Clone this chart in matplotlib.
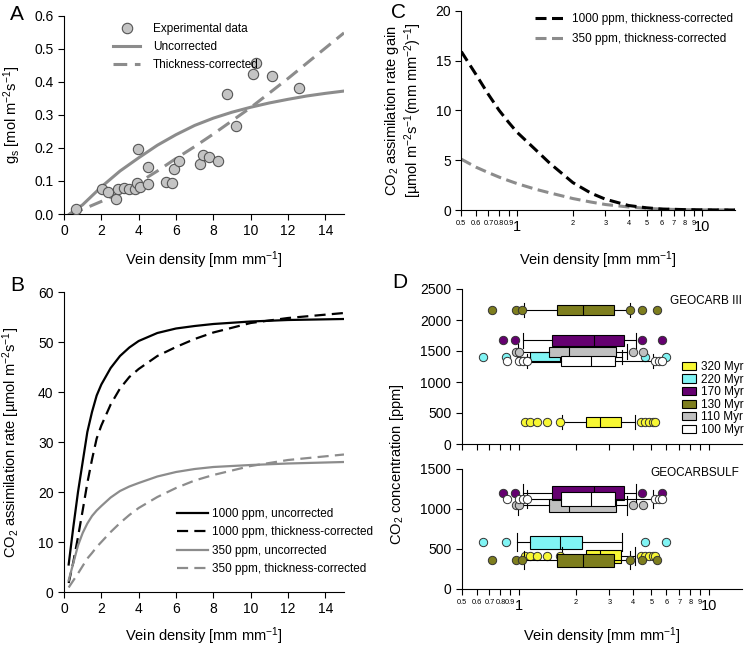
import matplotlib
matplotlib.use("Agg")
import matplotlib.pyplot as plt
from matplotlib.lines import Line2D
from matplotlib.patches import Patch

plt.rcParams['font.family'] = ['Liberation Sans', 'DejaVu Sans']
plt.rcParams['mathtext.default'] = 'regular'

# ---- Panel A data ----
exp_x = [0.66, 2.03, 2.34, 2.80, 2.87, 3.21, 3.50, 3.82, 3.89, 4.09, 3.96, 4.48, 4.50,
         5.44, 5.77, 5.91, 6.16, 7.30, 7.46, 7.78, 8.25, 9.23, 8.73, 10.10, 10.27, 11.16, 12.60]
exp_gs = [0.016, 0.076, 0.066, 0.045, 0.076, 0.079, 0.075, 0.076, 0.095, 0.082, 0.198, 0.090, 0.141,
          0.098, 0.095, 0.135, 0.159, 0.151, 0.178, 0.172, 0.161, 0.265, 0.364, 0.423, 0.456, 0.419, 0.381]
curve_x = [0.3, 1, 2, 3, 4, 5, 6, 7, 8, 9, 10, 11, 12, 13, 14, 15]
gs_uncorr = [0.0, 0.028, 0.082, 0.13, 0.17, 0.208, 0.24, 0.268, 0.29, 0.308, 0.323, 0.336, 0.347, 0.357, 0.365, 0.372]
gs_corr = [0.0, 0.014, 0.038, 0.064, 0.095, 0.13, 0.168, 0.204, 0.242, 0.282, 0.322, 0.366, 0.41, 0.456, 0.502, 0.548]

# ---- Panel B data ----
b_x = [0.25, 0.5, 0.75, 1, 1.25, 1.5, 1.75, 2, 2.5, 3, 3.5, 4, 5, 6, 7, 8, 10, 12, 15]
a1000_uncorr = [5.5, 13, 20, 26, 32, 36, 39.3, 41.5, 44.8, 47.2, 48.9, 50.2, 51.8, 52.7, 53.2, 53.6, 54.1, 54.4, 54.6]
a1000_corr = [1.8, 6, 11, 16.3, 21.8, 26.5, 30.7, 33.3, 37.5, 40.7, 43, 44.6, 47.2, 49, 50.6, 51.9, 53.8, 54.8, 55.8]
a350_uncorr = [2.3, 5.8, 9.3, 11.8, 13.7, 15.2, 16.3, 17.2, 18.9, 20.2, 21.1, 21.8, 23.1, 24, 24.6, 25, 25.4, 25.7, 26]
a350_corr = [0.9, 2.3, 3.7, 5.2, 6.7, 7.8, 9, 10, 12, 13.8, 15.4, 16.8, 19, 20.8, 22.3, 23.4, 25.2, 26.4, 27.5]

# ---- Panel C data ----
c_x = [0.5, 0.6, 0.7, 0.8, 0.9, 1, 1.25, 1.5, 2, 2.5, 3, 4, 5, 6, 8, 10, 15]
gain1000 = [15.9, 13.6, 11.6, 10.0, 8.8, 7.8, 6.1, 4.7, 2.75, 1.7, 1.08, 0.45, 0.22, 0.1, 0.04, 0.02, 0.0]
gain350 = [5.1, 4.3, 3.75, 3.3, 2.95, 2.65, 2.1, 1.72, 1.15, 0.8, 0.55, 0.3, 0.17, 0.09, 0.03, 0.01, 0.0]

log_ticks = [0.5, 0.6, 0.7, 0.8, 0.9, 1, 2, 3, 4, 5, 6, 7, 8, 9, 10]
log_labels = ['0.5', '0.6', '0.7', '0.8', '0.9', '1', '2', '3', '4', '5', '6', '7', '8', '9', '10']

# ---- Panel D data (vein density stats per age) ----
ages = ['320 Myr', '220 Myr', '170 Myr', '130 Myr', '110 Myr', '100 Myr']
age_colors = ['#f7f733', '#80f4f4', '#650070', '#7e7e1e', '#c0c0c0', '#ffffff']
whislo = [1.69, 0.98, 1.05, 1.07, 0.99, 1.10]
q1 = [2.26, 1.14, 1.49, 1.58, 1.45, 1.66]
med = [2.69, 1.64, 2.48, 2.18, 1.83, 2.41]
q3 = [3.47, 2.15, 3.57, 3.16, 3.27, 3.20]
whishi = [4.08, 3.50, 4.16, 3.87, 3.72, 5.10]
fliers = [[1.08, 1.15, 1.25, 1.40, 1.64, 4.42, 4.64, 4.87, 5.10, 5.20],
          [0.65, 0.86, 4.60, 5.97],
          [0.83, 0.96, 4.46, 5.68],
          [0.72, 0.97, 1.04, 3.87, 4.46, 5.34],
          [0.97, 1.00, 4.00, 4.50],
          [0.87, 1.00, 1.05, 1.10, 5.20, 5.50, 5.70]]
co2_geocarb3 = [350, 1400, 1670, 2160, 1490, 1340]
co2_geocarbsulf = [410, 585, 1200, 360, 1045, 1125]
order_geocarb3 = [1, 4, 5, 2, 3, 0]
order_geocarbsulf = [4, 2, 5, 1, 0, 3]

GRAY = '#8c8c8c'
W, H = 744, 647


def box(l, t, r, b):
    return [l / W, 1 - b / H, (r - l) / W, (b - t) / H]


def style(ax):
    ax.spines['top'].set_visible(False)
    ax.spines['right'].set_visible(False)
    ax.tick_params(direction='out', length=4, width=0.8, labelsize=10)


def log_axis(ax, labels=True):
    ax.set_xscale('log')
    ax.set_xlim(0.5, 15)
    ax.set_xticks(log_ticks)
    ax.minorticks_off()
    if labels:
        ax.set_xticklabels(log_labels)
        for lab, v in zip(ax.get_xticklabels(), log_ticks):
            lab.set_fontsize(10.5 if v in (1, 10) else 5.3)
    else:
        ax.set_xticklabels([])


fig = plt.figure(figsize=(W / 100, H / 100), dpi=100)

# ---------------- A ----------------
axA = fig.add_axes(box(64, 15.7, 344, 214))
style(axA)
axA.plot(curve_x, gs_uncorr, color=GRAY, lw=2.2)
axA.plot(curve_x, gs_corr, color=GRAY, lw=2.2, dashes=(4.5, 2.5))
axA.scatter(exp_x, exp_gs, s=55, facecolor='#c4c4c4', edgecolor='#555555', linewidth=0.8, zorder=3)
axA.set_xlim(0, 15)
axA.set_ylim(0, 0.6)
axA.set_xticks(range(0, 15, 2))
axA.set_yticks([0, 0.1, 0.2, 0.3, 0.4, 0.5, 0.6])
axA.set_yticklabels(['0.0', '0.1', '0.2', '0.3', '0.4', '0.5', '0.6'])
axA.set_xlabel('Vein density [mm mm$^{-1}$]', fontsize=10.5)
axA.set_ylabel('g$_s$ [mol m$^{-2}$s$^{-1}$]', fontsize=10.5)
axA.xaxis.set_label_coords(0.5, -0.18)
axA.yaxis.set_label_coords(-0.145, 0.5)
hA = [Line2D([], [], ls='', marker='o', ms=7.5, mfc='#c4c4c4', mec='#555555', mew=0.8),
      Line2D([], [], color=GRAY, lw=2.2),
      Line2D([], [], color=GRAY, lw=2.2, dashes=(4.5, 2.5))]
axA.legend(hA, ['Experimental data', 'Uncorrected', 'Thickness-corrected'], loc='upper left',
           bbox_to_anchor=(113 / W, 1 - 23 / H), bbox_transform=fig.transFigure, frameon=False,
           fontsize=8.5, handlelength=2.3, handletextpad=1.1, labelspacing=0.5,
           borderpad=0, borderaxespad=0)

# ---------------- B ----------------
axB = fig.add_axes(box(64, 292, 344, 592))
style(axB)
axB.plot(b_x, a1000_uncorr, color='black', lw=1.6, label='1000 ppm, uncorrected')
axB.plot(b_x, a1000_corr, color='black', lw=1.6, dashes=(5, 2.8), label='1000 ppm, thickness-corrected')
axB.plot(b_x, a350_uncorr, color=GRAY, lw=1.6, label='350 ppm, uncorrected')
axB.plot(b_x, a350_corr, color=GRAY, lw=1.6, dashes=(5, 2.8), label='350 ppm, thickness-corrected')
axB.set_xlim(0, 15)
axB.set_ylim(0, 60)
axB.set_xticks(range(0, 15, 2))
axB.set_yticks(range(0, 61, 10))
axB.set_xlabel('Vein density [mm mm$^{-1}$]', fontsize=10.5)
axB.set_ylabel('CO$_2$ assimilation rate [µmol m$^{-2}$s$^{-1}$]', fontsize=10.5)
axB.xaxis.set_label_coords(0.5, -0.112)
axB.yaxis.set_label_coords(-0.15, 0.5)
axB.legend(loc='upper left', bbox_to_anchor=(177 / W, 1 - 508 / H), bbox_transform=fig.transFigure,
           frameon=False, fontsize=8.5, handlelength=2.6, handletextpad=0.35, labelspacing=0.55,
           borderpad=0, borderaxespad=0)

# ---------------- C ----------------
axC = fig.add_axes(box(461.3, 10.7, 735, 210))
style(axC)
axC.plot(c_x, gain350, color=GRAY, lw=2.2, dashes=(3.6, 1.8), label='350 ppm, thickness-corrected')
axC.plot(c_x, gain1000, color='black', lw=2.2, dashes=(3.6, 1.8), label='1000 ppm, thickness-corrected')
log_axis(axC)
axC.set_ylim(0, 20)
axC.set_yticks([0, 5, 10, 15, 20])
axC.set_xlabel('Vein density [mm mm$^{-1}$]', fontsize=10.5)
axC.set_ylabel('CO$_2$ assimilation rate gain\n[µmol m$^{-2}$s$^{-1}$(mm mm$^{-2}$)$^{-1}$]', fontsize=10.5,
               linespacing=1.1)
axC.xaxis.set_label_coords(0.5, -0.2)
axC.yaxis.set_label_coords(-0.135, 0.5)
hC, lC = axC.get_legend_handles_labels()
axC.legend(hC[::-1], lC[::-1], loc='upper left', bbox_to_anchor=(535 / W, 1 - 13 / H),
           bbox_transform=fig.transFigure, frameon=False, fontsize=8.5, handlelength=2.5,
           handletextpad=0.6, labelspacing=0.65, borderpad=0, borderaxespad=0)

# ---------------- D ----------------
axD1 = fig.add_axes(box(461.7, 289, 742, 444))
axD2 = fig.add_axes(box(461.7, 469, 742, 589))


def draw_boxes(ax, co2, order):
    for rank, i in enumerate(order):
        stats = [dict(med=med[i], q1=q1[i], q3=q3[i], whislo=whislo[i], whishi=whishi[i], fliers=fliers[i])]
        ax.bxp(stats, positions=[co2[i]], widths=165, capwidths=230, orientation='horizontal',
               patch_artist=True, manage_ticks=False, zorder=2 + rank * 0.1,
               boxprops=dict(facecolor=age_colors[i], edgecolor='black', linewidth=0.8),
               medianprops=dict(color='black', linewidth=0.8),
               whiskerprops=dict(color='black', linewidth=0.8),
               capprops=dict(color='black', linewidth=0.8),
               flierprops=dict(marker='o', markersize=6, markerfacecolor=age_colors[i],
                               markeredgecolor='#333333', markeredgewidth=0.7))


for ax in (axD1, axD2):
    style(ax)
draw_boxes(axD1, co2_geocarb3, order_geocarb3)
draw_boxes(axD2, co2_geocarbsulf, order_geocarbsulf)
log_axis(axD1, labels=False)
log_axis(axD2)
axD1.set_ylim(0, 2500)
axD1.set_yticks(range(0, 2501, 500))
axD2.set_ylim(0, 1500)
axD2.set_yticks(range(0, 1501, 500))
axD1.text(1.0, 0.92, 'GEOCARB III', transform=axD1.transAxes, ha='right', va='center', fontsize=8.5)
axD2.text(0.99, 0.97, 'GEOCARBSULF', transform=axD2.transAxes, ha='right', va='center', fontsize=8.5)
axD2.set_xlabel('Vein density [mm mm$^{-1}$]', fontsize=10.5)
axD2.xaxis.set_label_coords(0.5, -0.3)
fig.text(397 / W, 1 - 464 / H, 'CO$_2$ concentration [ppm]', rotation=90, ha='center', va='center',
         fontsize=10.5)
hD = [Patch(facecolor=c, edgecolor='black', linewidth=0.8) for c in age_colors]
axD1.legend(hD, ages, loc='upper left', bbox_to_anchor=(682 / W, 1 - 361 / H),
            bbox_transform=fig.transFigure, frameon=False, fontsize=8.5, handlelength=1.2,
            handleheight=0.7, handletextpad=0.4, labelspacing=0.05, borderpad=0, borderaxespad=0)

# panel letters
for letter, x, y in [('A', 17, 14), ('B', 17, 286), ('C', 398, 13), ('D', 400, 283)]:
    fig.text(x / W, 1 - y / H, letter, fontsize=15, ha='center', va='center')

fig.savefig('out.png', dpi=100)
